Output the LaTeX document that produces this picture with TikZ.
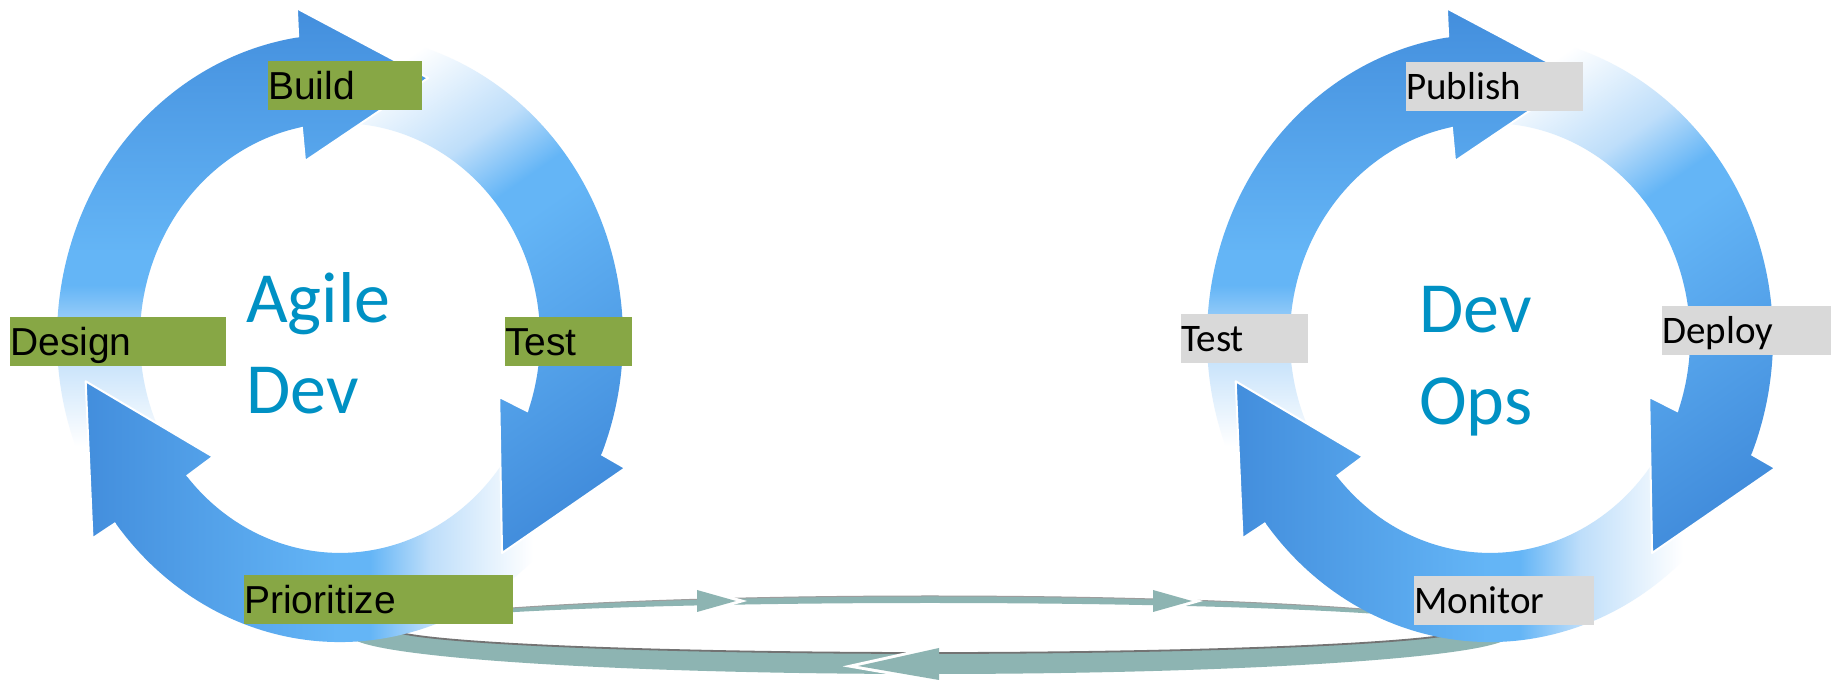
\documentclass[tikz,border=0pt]{standalone}
\usepackage{fontspec}
\setmainfont{Liberation Sans}
\newfontfamily\calibrifont{Carlito}
\newfontfamily\arialfont{Liberation Sans}
\definecolor{dkb}{RGB}{66,141,220}
\definecolor{mdb}{RGB}{100,181,246}
\definecolor{ltb}{RGB}{190,222,250}
\definecolor{lblgreen}{RGB}{135,167,69}
\definecolor{lblgray}{RGB}{217,217,217}
\definecolor{titleblue}{RGB}{0,145,196}
\definecolor{bandteal}{RGB}{141,180,178}
\definecolor{bandshade}{RGB}{115,115,115}
\pgfdeclareverticalshading{ringgrad}{100bp}{color(0bp)=(white); color(26.5bp)=(white); color(37.5bp)=(ltb); color(44bp)=(mdb); color(47.5bp)=(mdb); color(75bp)=(dkb); color(100bp)=(dkb)}
% arrow outline in normalised ring coordinates: #1 back angle, #2 tail angle
\newcommand\ringarrowpath[2]{({#2}:1) arc[start angle={#2}, end angle={#1-1.5}, radius=1] -- ({#1-2}:1.095) -- ({#1-30}:0.91) -- ({#1+2}:0.595) -- ({#1+1}:0.707) arc[start angle={#1+1}, end angle={#2}, radius=0.707] -- cycle}
\newcommand\ringheadpath[1]{({#1-2}:1.095) -- ({#1-30}:0.91) -- ({#1+2}:0.595) -- cycle}
% #1 ring style, #2 back, #3 tail, #4 shade point, #5 rotation, #6 length
\newcommand\paintringarrow[6]{%
  \begin{scope}
    \clip[#1] \ringarrowpath{#2}{#3};
    \shade[shading=ringgrad, transform canvas={shift={#4}, rotate=#5}] (-1000,-#6) rectangle (1000,0);
  \end{scope}}
% #1 ring style, #2 back, #3 shade point, #4 rotation, #5 length
\newcommand\paintringhead[5]{%
  \begin{scope}
    \clip[#1] \ringheadpath{#2};
    \shade[shading=ringgrad, transform canvas={shift={#3}, rotate=#4}] (-1000,-#5) rectangle (1000,0);
  \end{scope}
  \draw[white, line width=2pt, line join=round, #1] ({#2-1.5}:1) -- ({#2-2}:1.095) -- ({#2-30}:0.91) -- ({#2+2}:0.595) -- ({#2+1}:0.707);}
\tikzset{
  ringL/.style={shift={(340,346)}, xscale=283, yscale=304},
  ringR/.style={shift={(1490,346)}, xscale=283, yscale=304},
  greenlbl/.style={fill=lblgreen, anchor=south west, inner xsep=0pt, inner ysep=0pt,
    text height=39pt, text depth=10pt, align=left, text=black,
    font=\arialfont\fontsize{39}{40}\selectfont},
  graylbl/.style={fill=lblgray, anchor=south west, inner xsep=0pt, inner ysep=0pt,
    text height=38pt, text depth=11pt, align=left, text=black,
    font=\calibrifont\fontsize{39}{40}\selectfont},
  titletxt/.style={anchor=base west, inner sep=0pt, text=titleblue,
    font=\calibrifont\fontsize{72}{80}\selectfont},
  bandhead/.style={fill=bandteal},
  bandgap/.style={draw=white, line width=6pt, line join=miter}
}
\begin{document}
\begin{tikzpicture}[x=1pt, y=1pt]
\useasboundingbox (0,0) rectangle (1835,684);
\fill[white] (0,0) rectangle (1835,684);

% ---- flat elliptical band between the two cycles ----
\fill[bandteal, even odd rule] (930,49) ellipse[x radius=580, y radius=39]
                               (930,56) ellipse[x radius=540, y radius=25];
\draw[bandshade, line width=1.8pt] (1470,56) arc[start angle=0, end angle=-180, x radius=540, y radius=25];
\draw[bandshade!70, line width=1pt] (1510,49) arc[start angle=0, end angle=180, x radius=580, y radius=39];
\draw[bandgap] (697,94) -- (736,83) -- (697,72);
\draw[bandgap] (1153,94) -- (1192,83) -- (1153,72);
\draw[bandgap] (939,36) -- (858,18) -- (939,4);
\fill[bandhead] (697,94) -- (736,83) -- (697,72) -- cycle;
\fill[bandhead] (1153,94) -- (1192,83) -- (1153,72) -- cycle;
\fill[bandhead] (939,36) -- (858,18) -- (939,4) -- cycle;

% ---- left cycle ----
\paintringarrow{ringL}{100}{215}{(340,684)}{0}{460}
\paintringarrow{ringL}{-21}{94}{(626,217)}{-145}{475}
\paintringarrow{ringL}{219}{334}{(80,300)}{90}{467}
\paintringhead{ringL}{100}{(340,684)}{0}{460}
\paintringhead{ringL}{-21}{(626,217)}{-145}{475}
\paintringhead{ringL}{219}{(80,300)}{90}{467}

% ---- right cycle ----
\paintringarrow{ringR}{100}{215}{(1490,684)}{0}{460}
\paintringarrow{ringR}{-21}{94}{(1776,217)}{-145}{475}
\paintringarrow{ringR}{219}{334}{(1230,300)}{90}{467}
\paintringhead{ringR}{100}{(1490,684)}{0}{460}
\paintringhead{ringR}{-21}{(1776,217)}{-145}{475}
\paintringhead{ringR}{219}{(1230,300)}{90}{467}

% ---- labels ----
\node[greenlbl, text width=154pt] (build) at (268,574) {Build};
\node[greenlbl, text width=216pt] (design) at (10,318) {Design};
\node[greenlbl, text width=127pt] (testL) at (505,318) {Test};
\node[greenlbl, text width=269pt] (prioritize) at (244,60) {Prioritize};
\node[graylbl, text width=177pt] (publish) at (1406,573) {Publish};
\node[graylbl, text width=127pt] (testR) at (1181,321) {Test};
\node[graylbl, text width=169pt] (deploy) at (1662,329) {Deploy};
\node[graylbl, text width=180pt] (monitor) at (1414,59) {Monitor};

% ---- titles ----
\node[titletxt] (agile) at (246,361) {Agile};
\node[titletxt] (devL) at (246,270) {Dev};
\node[titletxt] (devR) at (1419,351) {Dev};
\node[titletxt] (ops) at (1419,259) {Ops};
\end{tikzpicture}
\end{document}
